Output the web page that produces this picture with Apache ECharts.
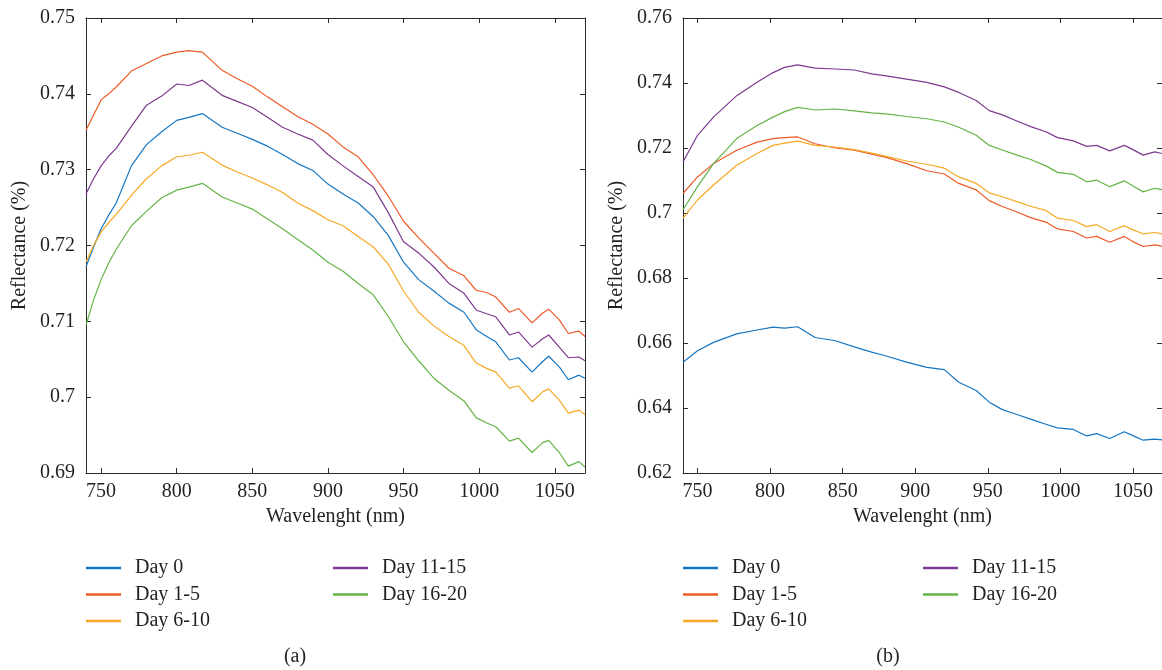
<!DOCTYPE html>
<html>
<head>
<meta charset="utf-8">
<script src="https://cdn.jsdelivr.net/npm/echarts@6/dist/echarts.min.js"></script>
<style>
html,body{margin:0;padding:0;background:#fff;}
#chart{width:1162px;height:670px;}
</style>
</head>
<body>
<div id="chart"></div>
<script>
// ---------- Data ----------
const seriesNames = ['Day 0', 'Day 1-5', 'Day 6-10', 'Day 11-15', 'Day 16-20'];
const xTicks = [750, 800, 850, 900, 950, 1000, 1050];
const yTicksA = [0.69, 0.70, 0.71, 0.72, 0.73, 0.74, 0.75];
const yTicksB = [0.62, 0.64, 0.66, 0.68, 0.70, 0.72, 0.74, 0.76];

// Panel (a)
const wavelengthA = [740, 745, 750, 755, 760, 770, 780, 790, 800, 808, 817, 830, 840, 850, 860, 870, 880, 890, 900, 910, 920, 930, 940, 950, 960, 970, 980, 990, 998, 1005, 1011, 1020, 1026, 1035, 1042, 1046, 1053, 1059, 1066, 1070];
const day0A = [.7172, .7198, .7222, .7240, .7256, .7305, .7333, .7350, .7365, .7369, .7374, .7356, .7348, .7340, .7331, .7320, .7308, .7299, .7281, .7268, .7256, .7238, .7213, .7178, .7155, .7140, .7124, .7112, .7089, .7080, .7073, .7049, .7052, .7033, .7047, .7054, .7040, .7023, .7029, .7025];
const day1to5A = [.7352, .7372, .7392, .7400, .7409, .7430, .7440, .7450, .7455, .7457, .7455, .7431, .7420, .7410, .7396, .7383, .7370, .7360, .7347, .7330, .7317, .7293, .7265, .7232, .7210, .7190, .7170, .7160, .7141, .7138, .7132, .7112, .7117, .7098, .7111, .7116, .7102, .7084, .7087, .7080];
const day6to10A = [.7178, .7200, .7218, .7230, .7241, .7266, .7288, .7305, .7317, .7319, .7323, .7306, .7297, .7289, .7280, .7270, .7256, .7246, .7234, .7226, .7212, .7198, .7175, .7140, .7112, .7094, .7080, .7068, .7045, .7038, .7033, .7012, .7015, .6994, .7007, .7011, .6996, .6979, .6983, .6977];
const day11to15A = [.7268, .7288, .7305, .7318, .7328, .7357, .7385, .7397, .7413, .7411, .7418, .7398, .7390, .7382, .7369, .7356, .7347, .7339, .7320, .7305, .7291, .7277, .7243, .7205, .7190, .7172, .7150, .7137, .7115, .7110, .7106, .7082, .7086, .7066, .7077, .7082, .7066, .7052, .7053, .7048];
const day16to20A = [.7095, .7128, .7155, .7177, .7195, .7226, .7245, .7263, .7273, .7277, .7282, .7264, .7256, .7248, .7235, .7222, .7208, .7194, .7178, .7166, .7150, .7135, .7106, .7073, .7048, .7025, .7009, .6995, .6973, .6966, .6961, .6942, .6946, .6927, .6940, .6943, .6927, .6909, .6915, .6908];

// Panel (b)
const wavelengthB = [740, 750, 761, 777, 791, 802, 810, 819, 831, 845, 858, 870, 880, 894, 908, 920, 930, 942, 951, 960, 970, 980, 990, 998, 1009, 1018, 1025, 1034, 1044, 1050, 1057, 1065, 1070];
const day0B = [.6541, .6576, .6602, .6628, .6640, .6649, .6646, .6650, .6617, .6607, .6588, .6572, .6560, .6541, .6525, .6518, .6479, .6454, .6418, .6395, .6380, .6365, .6350, .6339, .6334, .6314, .6321, .6306, .6327, .6315, .6301, .6304, .6302];
const day1to5B = [.7060, .7111, .7152, .7193, .7218, .7229, .7232, .7234, .7213, .7200, .7193, .7181, .7171, .7152, .7130, .7120, .7091, .7071, .7038, .7020, .7003, .6985, .6972, .6951, .6943, .6923, .6928, .6910, .6928, .6912, .6897, .6902, .6898];
const day6to10B = [.6984, .7040, .7086, .7147, .7183, .7208, .7215, .7221, .7208, .7203, .7195, .7184, .7174, .7160, .7150, .7138, .7111, .7091, .7062, .7050, .7035, .7020, .7008, .6984, .6977, .6958, .6964, .6943, .6961, .6948, .6936, .6940, .6936];
const day11to15B = [.7157, .7239, .7295, .7361, .7402, .7432, .7448, .7456, .7446, .7443, .7440, .7428, .7422, .7412, .7402, .7388, .7371, .7346, .7315, .7302, .7283, .7265, .7250, .7232, .7222, .7205, .7208, .7191, .7208, .7195, .7178, .7188, .7183];
const day16to20B = [.7010, .7081, .7152, .7229, .7269, .7295, .7312, .7325, .7317, .7320, .7314, .7308, .7305, .7297, .7290, .7280, .7264, .7239, .7208, .7194, .7178, .7164, .7145, .7125, .7119, .7096, .7101, .7081, .7099, .7083, .7065, .7076, .7072];

// ---------- Styling ----------
const colors = ['#1576c3', '#ee5a27', '#f6a824', '#7e3a90', '#63b446'];
const FONT = '"Liberation Serif", "DejaVu Serif", serif';
const TXT = '#231f20';
const AX = '#2b2b2b';
const FS = 20;

const valuesA = [day0A, day1to5A, day6to10A, day11to15A, day16to20A];
const valuesB = [day0B, day1to5B, day6to10B, day11to15B, day16to20B];

function pairs(xs, ys) { return xs.map((x, i) => [x, ys[i]]); }
function fmt(v) { return String(parseFloat(v.toFixed(2))); }
function fmtX(v) { return String(Math.round(v)); }

function xAxes(gi) {
  return [{
    gridIndex: gi, type: 'value', min: 740, max: 1070, position: 'bottom',
    axisLine: { show: true, onZero: false, lineStyle: { color: AX, width: 1 } },
    axisTick: { show: true, inside: true, length: 5, customValues: xTicks, lineStyle: { color: AX } },
    axisLabel: { customValues: xTicks, margin: 9, fontFamily: FONT, fontSize: FS, color: TXT, formatter: fmtX },
    splitLine: { show: false },
    name: 'Wavelenght (nm)', nameLocation: 'middle', nameGap: 32,
    nameTextStyle: { fontFamily: FONT, fontSize: FS, color: TXT }
  }, {
    gridIndex: gi, type: 'value', min: 740, max: 1070, position: 'top',
    axisLine: { show: true, onZero: false, lineStyle: { color: AX, width: 1 } },
    axisTick: { show: true, inside: true, length: 5, customValues: xTicks, lineStyle: { color: AX } },
    axisLabel: { show: false },
    splitLine: { show: false }
  }];
}
function yAxes(gi, ticks, interval) {
  const mn = ticks[0], mx = ticks[ticks.length - 1];
  return [{
    gridIndex: gi, type: 'value', min: mn, max: mx, interval: interval, position: 'left',
    axisLine: { show: true, onZero: false, lineStyle: { color: AX, width: 1 } },
    axisTick: { show: true, inside: true, length: 5, lineStyle: { color: AX } },
    axisLabel: { margin: 11, fontFamily: FONT, fontSize: FS, color: TXT, formatter: fmt },
    splitLine: { show: false },
    name: 'Reflectance (%)', nameLocation: 'middle', nameGap: 56,
    nameTextStyle: { fontFamily: FONT, fontSize: FS, color: TXT }
  }, {
    gridIndex: gi, type: 'value', min: mn, max: mx, interval: interval, position: 'right',
    axisLine: { show: true, onZero: false, lineStyle: { color: AX, width: 1 } },
    axisTick: { show: true, inside: true, length: 5, lineStyle: { color: AX } },
    axisLabel: { show: false },
    splitLine: { show: false }
  }];
}

const series = [];
seriesNames.forEach((n, i) => {
  series.push({ name: n, type: 'line', xAxisIndex: 0, yAxisIndex: 0, data: pairs(wavelengthA, valuesA[i]),
    showSymbol: false, symbol: 'none', lineStyle: { width: 1.2, color: colors[i] }, itemStyle: { color: colors[i] }, animation: false });
});
seriesNames.forEach((n, i) => {
  series.push({ name: n, type: 'line', xAxisIndex: 2, yAxisIndex: 2, data: pairs(wavelengthB, valuesB[i]),
    showSymbol: false, symbol: 'none', lineStyle: { width: 1.2, color: colors[i] }, itemStyle: { color: colors[i] }, animation: false });
});

function legend(left, names) {
  return {
    left: left, top: 558, orient: 'vertical', padding: 0, itemGap: 6.5,
    itemWidth: 35, itemHeight: 2.5, icon: 'rect', selectedMode: false,
    data: names,
    textStyle: { fontFamily: FONT, fontSize: FS, color: TXT, padding: [0, 0, 0, 9] }
  };
}

const option = {
  backgroundColor: '#ffffff',
  animation: false,
  color: colors,
  grid: [
    { left: 86, top: 18, width: 499, height: 455 },
    { left: 683, top: 18, width: 482, height: 455 }
  ],
  xAxis: [...xAxes(0), ...xAxes(1)],
  yAxis: [...yAxes(0, yTicksA, 0.01), ...yAxes(1, yTicksB, 0.02)],
  legend: [
    legend(86, seriesNames.slice(0, 3)),
    legend(333, seriesNames.slice(3)),
    legend(683, seriesNames.slice(0, 3)),
    legend(923, seriesNames.slice(3))
  ],
  graphic: [
    { type: 'text', x: 295, y: 657, style: { text: '(a)', font: FS + 'px ' + FONT, fill: TXT, align: 'center', verticalAlign: 'middle' } },
    { type: 'text', x: 888, y: 657, style: { text: '(b)', font: FS + 'px ' + FONT, fill: TXT, align: 'center', verticalAlign: 'middle' } }
  ],
  series: series
};

const chart = echarts.init(document.getElementById('chart'), null, { renderer: 'canvas' });
chart.setOption(option);
</script>
</body>
</html>
